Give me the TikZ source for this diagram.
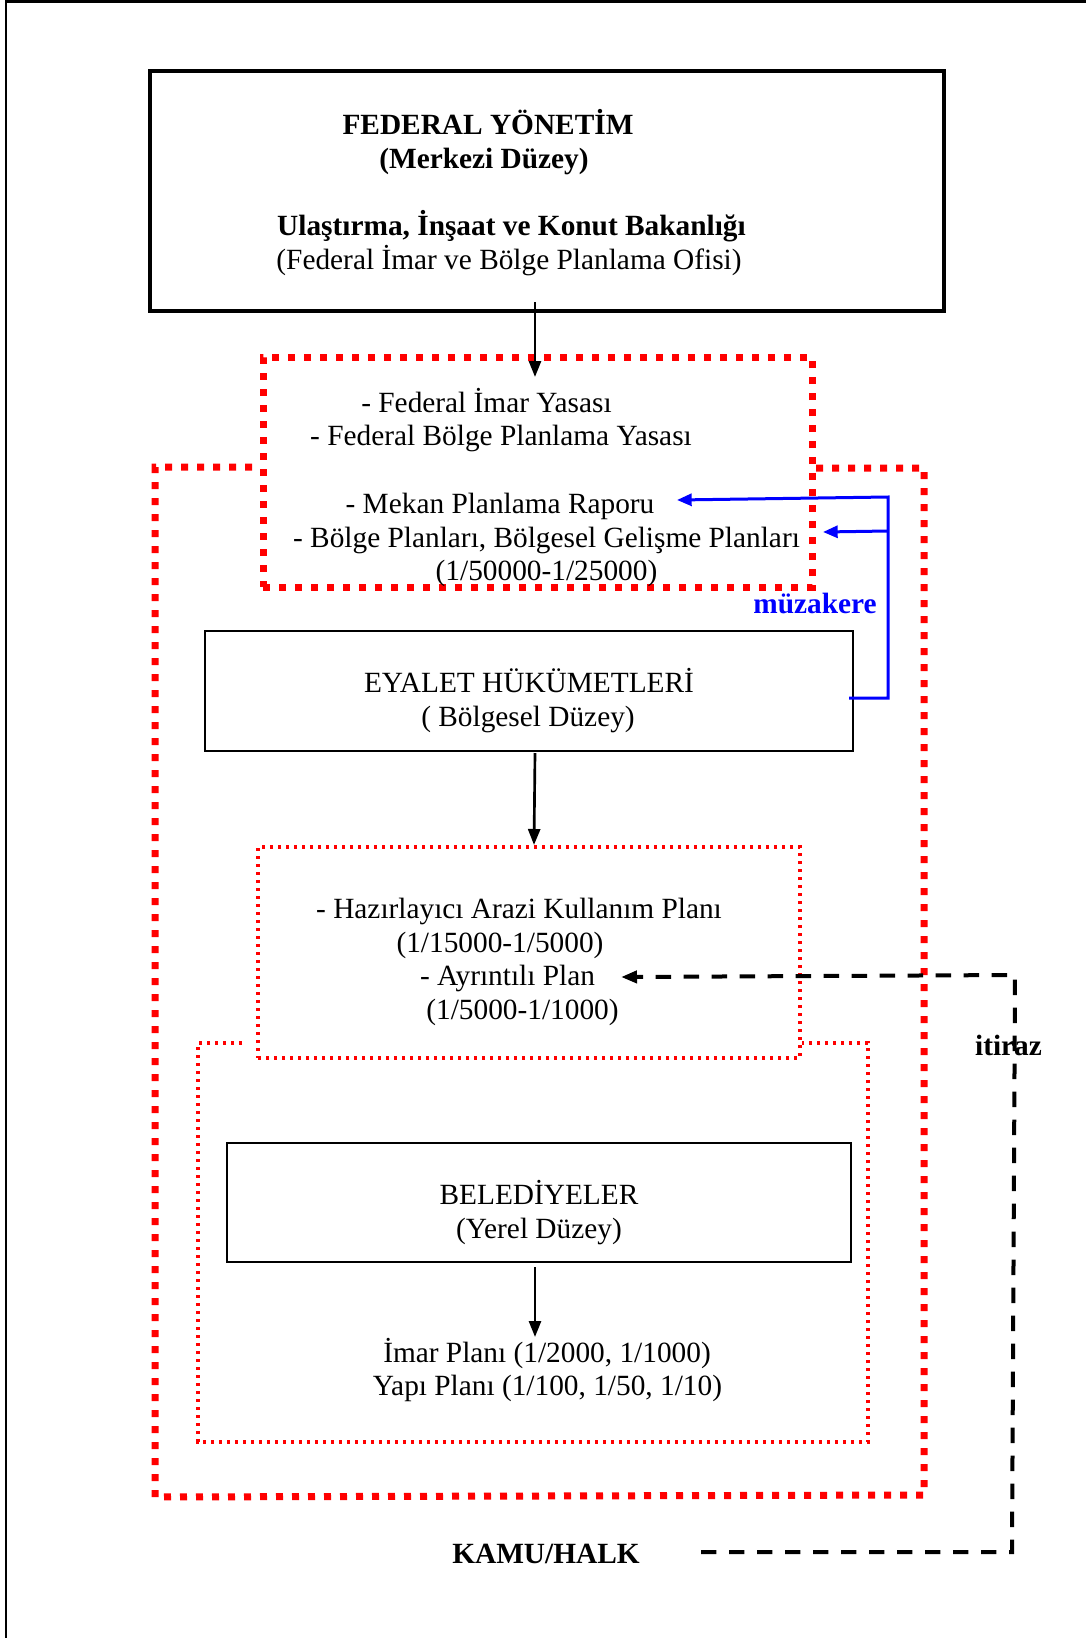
\documentclass[tikz,border=0pt]{standalone}
\usepackage{fontspec}
\setmainfont{Liberation Serif}
\usetikzlibrary{arrows.meta,fit}
\begin{document}
\begin{tikzpicture}[x=0.75pt,y=-0.75pt,
  every node/.style={font=\fontsize{22}{25}\selectfont},
  txt/.style={anchor=base,inner sep=0pt},
  btxt/.style={txt,font=\fontsize{22}{25}\selectfont\bfseries},
  mainbox/.style={draw,line width=3.4pt,inner sep=0pt},
  govbox/.style={draw,line width=1.5pt,inner sep=0pt},
  thickdots/.style={draw=red,line width=5.25pt,dash pattern=on 5.25pt off 6.75pt},
  finedots/.style={draw=red,line width=2.4pt,dash pattern=on 2.5pt off 3.5pt},
  flow/.style={draw,line width=2pt,-{Triangle[length=12pt,width=9pt]}},
  talk/.style={draw=blue,line width=2.25pt,-{Triangle[length=11pt,width=9pt]}},
  appeal/.style={draw,line width=3pt,dash pattern=on 11.5pt off 9.5pt,-{Triangle[length=12pt,width=9pt]}},
]
\useasboundingbox (0,0) rectangle (1086,1638);
\fill[white] (0,0) rectangle (1086,1638);

% page frame
\draw[line width=2pt] (6,1638) -- (6,1.5) -- (1086,1.5);

% federal level
\node (fed) [mainbox, fit={(150,71) (944,311)}] {};
\node (t1) [btxt] at (488,134) {FEDERAL YÖNETİM};
\node (t2) [btxt] at (484,168) {(Merkezi Düzey)};
\node (t3) [btxt] at (511.5,235) {Ulaştırma, İnşaat ve Konut Bakanlığı};
\node (t4) [txt] at (509,269) {(Federal İmar ve Bölge Planlama Ofisi)};

% federal laws and plans
\node (laws) [thickdots, inner sep=0pt, fit={(263,357) (812,587)}] {};
\node (l1) [txt] at (486.5,412) {- Federal İmar Yasası};
\node (l2) [txt] at (501,445) {- Federal Bölge Planlama Yasası};
\node (l3) [txt] at (500,513) {- Mekan Planlama Raporu};
\node (l4) [txt] at (546.5,547) {- Bölge Planları, Bölgesel Gelişme Planları};
\node (l5) [txt] at (546.5,580) {(1/50000-1/25000)};

% regional frame
\draw[thickdots] (252,467) -- (155,467) -- (155,1497) -- (924,1495) -- (924,468) -- (813,468);

% state governments
\node (state) [govbox, fit={(205,631) (853,751)}] {};
\node (s1) [txt] at (529,692) {EYALET HÜKÜMETLERİ};
\node (s2) [txt] at (528,726) {( Bölgesel Düzey)};

% state plans
\node (splans) [finedots, inner sep=0pt, fit={(258,847) (800,1058)}] {};
\node (h1) [txt] at (519,918) {- Hazırlayıcı Arazi Kullanım Planı};
\node (h2) [txt] at (500,952) {(1/15000-1/5000)};
\node (h3) [txt] at (507.5,985) {- Ayrıntılı Plan};
\node (h4) [txt] at (522.5,1019) {(1/5000-1/1000)};

% local frame
\draw[finedots] (242,1043) -- (198,1043) -- (198,1442) -- (868,1442) -- (868,1043) -- (802,1043);

% municipalities
\node (mun) [govbox, fit={(227,1143) (851,1262)}] {};
\node (m1) [txt] at (539,1204) {BELEDİYELER};
\node (m2) [txt] at (539,1238) {(Yerel Düzey)};
\node (p1) [txt] at (547,1362) {İmar Planı (1/2000, 1/1000)};
\node (p2) [txt] at (547.5,1395) {Yapı Planı (1/100, 1/50, 1/10)};

% public
\node (pub) [btxt] at (546,1563) {KAMU/HALK};

% top-down flow
\coordinate (f1) at (535,302);
\coordinate (f2) at (535,377);
\coordinate (f3) at (535,753);
\coordinate (f4) at (534,845);
\coordinate (f5) at (535,1267);
\coordinate (f6) at (535,1337);
\draw[flow] (f1) -- (f2);
\draw[flow] (f3) -- (f4);
\draw[flow] (f5) -- (f6);

% negotiation
\coordinate (n0) at (849,698);
\coordinate (n1) at (888,698);
\coordinate (n2) at (888,531);
\coordinate (n3) at (888,497);
\coordinate (n4) at (677,500);
\coordinate (n5) at (823,532);
\draw[talk] (n0) -- (n1) -- (n3) -- (n4);
\draw[talk] (n2) -- (n5);
\node (neg) [btxt, text=blue] at (815,613) {müzakere};

% objection
\coordinate (o0) at (701,1552);
\coordinate (o1) at (1012,1552);
\coordinate (o2) at (1015,975);
\coordinate (o3) at (621,977);
\node (obj) [btxt] at (1008.5,1055) {itiraz};
\draw[appeal] (o0) -- (o1) -- (o2) -- (o3);
\end{tikzpicture}
\end{document}
